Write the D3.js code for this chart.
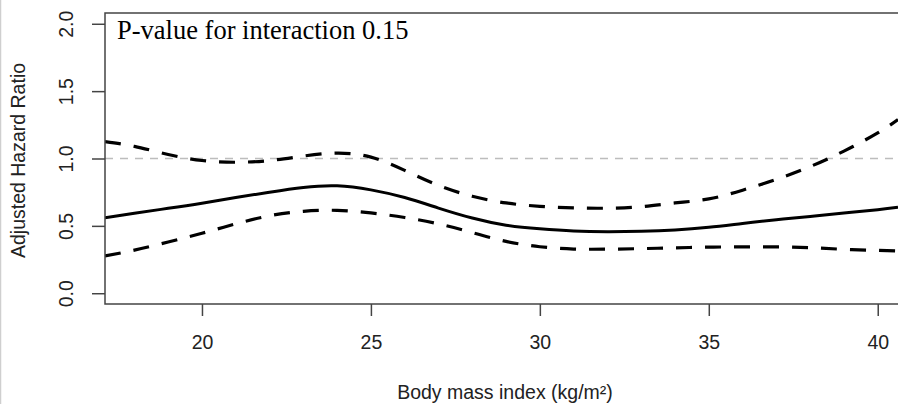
<!DOCTYPE html>
<html>
<head>
<meta charset="utf-8">
<script src="https://cdn.jsdelivr.net/npm/d3@7"></script>
<style>
  html, body { margin: 0; padding: 0; background: #fff; }
  svg { display: block; }
</style>
</head>
<body>
<div id="chart"></div>
<script>
// Body mass index grid (kg/m²)
const bmi = [17.13, 18, 19, 20, 21, 22, 23, 24, 25, 26, 27, 28, 29, 30, 31, 32, 33, 34, 35, 36, 37, 38, 39, 40, 40.6];
// Adjusted hazard ratio estimate
const hr = [0.56, 0.594, 0.63, 0.668, 0.71, 0.75, 0.785, 0.797, 0.767, 0.71, 0.632, 0.558, 0.505, 0.478, 0.462, 0.457, 0.46, 0.47, 0.49, 0.518, 0.545, 0.57, 0.595, 0.62, 0.638];
// 95% confidence limits
const upper = [1.126, 1.09, 1.03, 0.985, 0.972, 0.985, 1.018, 1.04, 1.01, 0.912, 0.8, 0.72, 0.67, 0.645, 0.633, 0.631, 0.642, 0.67, 0.70, 0.765, 0.845, 0.94, 1.055, 1.19, 1.29];
const lower = [0.277, 0.32, 0.38, 0.445, 0.515, 0.575, 0.608, 0.615, 0.596, 0.562, 0.515, 0.45, 0.385, 0.345, 0.328, 0.327, 0.331, 0.337, 0.342, 0.344, 0.344, 0.338, 0.326, 0.318, 0.313];
const xTicks = [20, 25, 30, 35, 40];
const yTicks = [0.0, 0.5, 1.0, 1.5, 2.0];
const refLine = 1.0;
const annotation = "P-value for interaction 0.15";

const W = 898, H = 404;
const box = { left: 105, right: 898, top: 13, bottom: 304 };
const sans = "Liberation Sans, Arial, sans-serif";
const fs = 19.5;

const svg = d3.select("#chart").append("svg")
  .attr("width", W).attr("height", H);

svg.append("rect").attr("width", W).attr("height", H).attr("fill", "#fff");
// thin frame line at the left edge of the figure
svg.append("line").attr("x1", 0.5).attr("x2", 0.5).attr("y1", 0).attr("y2", H)
  .attr("stroke", "#cfcfcf").attr("stroke-width", 1.5);

const x = d3.scaleLinear().domain([17.13, 40.6]).range([box.left, box.right]);
const y = d3.scaleLinear().domain([-0.08, 2.08]).range([box.bottom, box.top]);

svg.append("defs").append("clipPath").attr("id", "plotclip")
  .append("rect").attr("x", box.left).attr("y", box.top)
  .attr("width", box.right - box.left).attr("height", box.bottom - box.top);

const plot = svg.append("g").attr("clip-path", "url(#plotclip)");

// reference line at HR = 1
plot.append("line")
  .attr("x1", box.left).attr("x2", box.right)
  .attr("y1", y(refLine)).attr("y2", y(refLine))
  .attr("stroke", "#bdbdbd").attr("stroke-width", 1.5)
  .attr("stroke-dasharray", "8,7");

const line = d3.line().curve(d3.curveNatural);
const pts = vals => bmi.map((b, i) => [x(b), y(vals[i])]);

[upper, lower].forEach(vals => {
  plot.append("path").attr("d", line(pts(vals)))
    .attr("fill", "none").attr("stroke", "#000")
    .attr("stroke-width", 3.2).attr("stroke-dasharray", "16,13");
});
plot.append("path").attr("d", line(pts(hr)))
  .attr("fill", "none").attr("stroke", "#000").attr("stroke-width", 3);

// plot frame
svg.append("path")
  .attr("d", `M${box.right + 5},${box.top}H${box.left}V${box.bottom}H${box.right + 5}`)
  .attr("fill", "none").attr("stroke", "#444").attr("stroke-width", 1.5);

// x axis
const xAxis = d3.axisBottom(x).tickValues(xTicks).tickSize(12).tickPadding(19.5)
  .tickFormat(d3.format("d"));
const gx = svg.append("g").attr("transform", `translate(0,${box.bottom})`).call(xAxis);
gx.select(".domain").remove();
gx.selectAll(".tick line").attr("stroke", "#444").attr("stroke-width", 1.5);
gx.selectAll(".tick text").attr("font-family", sans)
  .attr("font-size", fs).attr("fill", "#222");

// y axis
const yAxis = d3.axisLeft(y).tickValues(yTicks).tickSize(13).tickPadding(0)
  .tickFormat(d3.format(".1f"));
const gy = svg.append("g").attr("transform", `translate(${box.left},0)`).call(yAxis);
gy.select(".domain").remove();
gy.selectAll(".tick line").attr("stroke", "#444").attr("stroke-width", 1.5);
gy.selectAll(".tick text")
  .attr("font-family", sans)
  .attr("font-size", fs).attr("fill", "#222")
  .attr("x", null).attr("dy", null)
  .attr("text-anchor", "middle")
  .attr("transform", "translate(-39,0) rotate(-90)")
  .attr("dominant-baseline", "central");

// axis titles
svg.append("text")
  .attr("x", 505).attr("y", 399)
  .attr("text-anchor", "middle")
  .attr("font-family", sans)
  .attr("font-size", fs).attr("fill", "#222")
  .text("Body mass index (kg/m²)");

svg.append("text")
  .attr("transform", `translate(25,${(box.top + box.bottom) / 2 + 2}) rotate(-90)`)
  .attr("text-anchor", "middle")
  .attr("font-family", sans)
  .attr("font-size", fs).attr("fill", "#222")
  .text("Adjusted Hazard Ratio");

// annotation
svg.append("text")
  .attr("x", 117).attr("y", 38.5)
  .attr("font-family", "Liberation Serif, Times New Roman, serif")
  .attr("font-size", 26.5).attr("fill", "#000")
  .text(annotation);
</script>
</body>
</html>
